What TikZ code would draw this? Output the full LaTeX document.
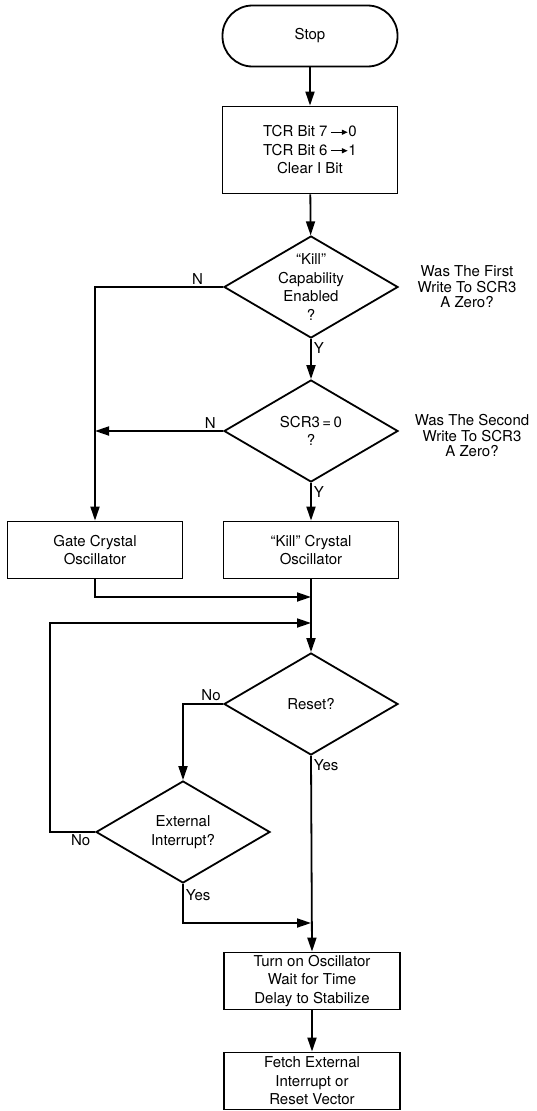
\documentclass[tikz,border=0pt]{standalone}
\usepackage{fontspec}
\setmainfont{TeX Gyre Heros}
\usepackage{tikz}
\usetikzlibrary{arrows.meta,calc,positioning,shapes.geometric}

\newcommand{\bitarrow}{\tikz[baseline=-0.6ex]\draw[line width=1.4pt,-{Triangle[length=6pt,width=5pt]}] (0,0) -- (17pt,0);}

\begin{document}
\begin{tikzpicture}[x=1pt,y=-1pt,font=\fontsize{15}{18.5}\selectfont,
    flow/.style={line width=1.8pt,-{Triangle[length=14pt,width=9pt]}},
    procbox/.style={draw,line width=1.8pt,minimum width=175pt,align=center,inner sep=2pt},
    decision/.style={draw,diamond,line width=1.8pt,minimum width=174pt,minimum height=102pt,inner sep=0pt},
    terminal/.style={draw,line width=1.8pt,rounded corners=30pt,minimum width=175pt,minimum height=61pt},
    note/.style={align=center,font=\fontsize{15}{15.5}\selectfont},
    branch/.style={inner sep=2pt}]
    \useasboundingbox (0,0) rectangle (536,1111);

    \node[terminal] (stop) at (310,36) {Stop};
    \node[procbox,minimum height=87pt] (tcr) at (310,150)
      {TCR Bit 7\,\bitarrow0\\TCR Bit 6\,\bitarrow1\\Clear I Bit};

    % decisions: empty diamond, text on top
    \foreach \name/\x/\y/\txt in {
      kill/311/287/{``Kill''\\Capability\\Enabled\\?},
      scr/311/431/{SCR3\,=\,0\\?},
      reset/311/704/{Reset?},
      ext/183/832/{External\\Interrupt?}}{%
      \node[decision] (\name) at (\x,\y) {};
      \node[align=center] (\name text) at (\name) {\txt};
    }

    \node[note] (firstnote) at (467,287) {Was The First\\Write To SCR3\\A Zero?};
    \node[note] (secondnote) at (472,436) {Was The Second\\Write To SCR3\\A Zero?};

    \node[procbox,minimum height=57pt] (gate) at (95,550) {Gate Crystal\\Oscillator};
    \node[procbox,minimum height=57pt] (killbox) at (311,550) {``Kill'' Crystal\\Oscillator};
    \node[procbox,minimum height=57pt,minimum width=176pt] (turnon) at (312,981)
      {Turn on Oscillator\\Wait for Time\\Delay to Stabilize};
    \node[procbox,minimum height=57pt,minimum width=176pt] (fetch) at (312,1081)
      {Fetch External\\Interrupt or\\Reset Vector};

    \coordinate (joinA) at (311,597);
    \coordinate (joinB) at (311,623);
    \coordinate (joinC) at (311,923);
    \coordinate (loopleft) at (50,623);

    \draw[flow] (stop) -- (tcr);
    \draw[flow] (tcr) -- (kill);
    \draw[flow] (kill.south) -- node[branch,pos=0.23,anchor=west] (killy) {Y} (scr.north);
    \draw[flow] (kill.west) -| node[branch,pos=0.1,above] (killn) {N} (gate.north);
    \draw[flow] (scr.west) -- node[branch,pos=0.1,above] (scrn) {N} (scr.west -| gate.north);
    \draw[flow] (scr.south) -- node[branch,pos=0.25,anchor=west] (scry) {Y} (killbox.north);
    \draw[flow] (gate.south) |- (joinA);
    \draw[flow] (killbox) -- (reset);
    \draw[flow] (reset.west) -| node[branch,pos=0.15,above] (resetno) {No} (ext.north);
    \draw[flow] (ext.west) -| node[branch,pos=0.16,below] (extno) {No} (loopleft) -- (joinB);
    \draw[flow] (ext.south) |- node[branch,pos=0.15,anchor=west] (extyes) {Yes} (joinC);
    \draw[flow] (reset.south) -- node[branch,pos=0.045,anchor=west] (resetyes) {Yes} (turnon.north);
    \draw[flow] (turnon) -- (fetch);
  \end{tikzpicture}
\end{document}
